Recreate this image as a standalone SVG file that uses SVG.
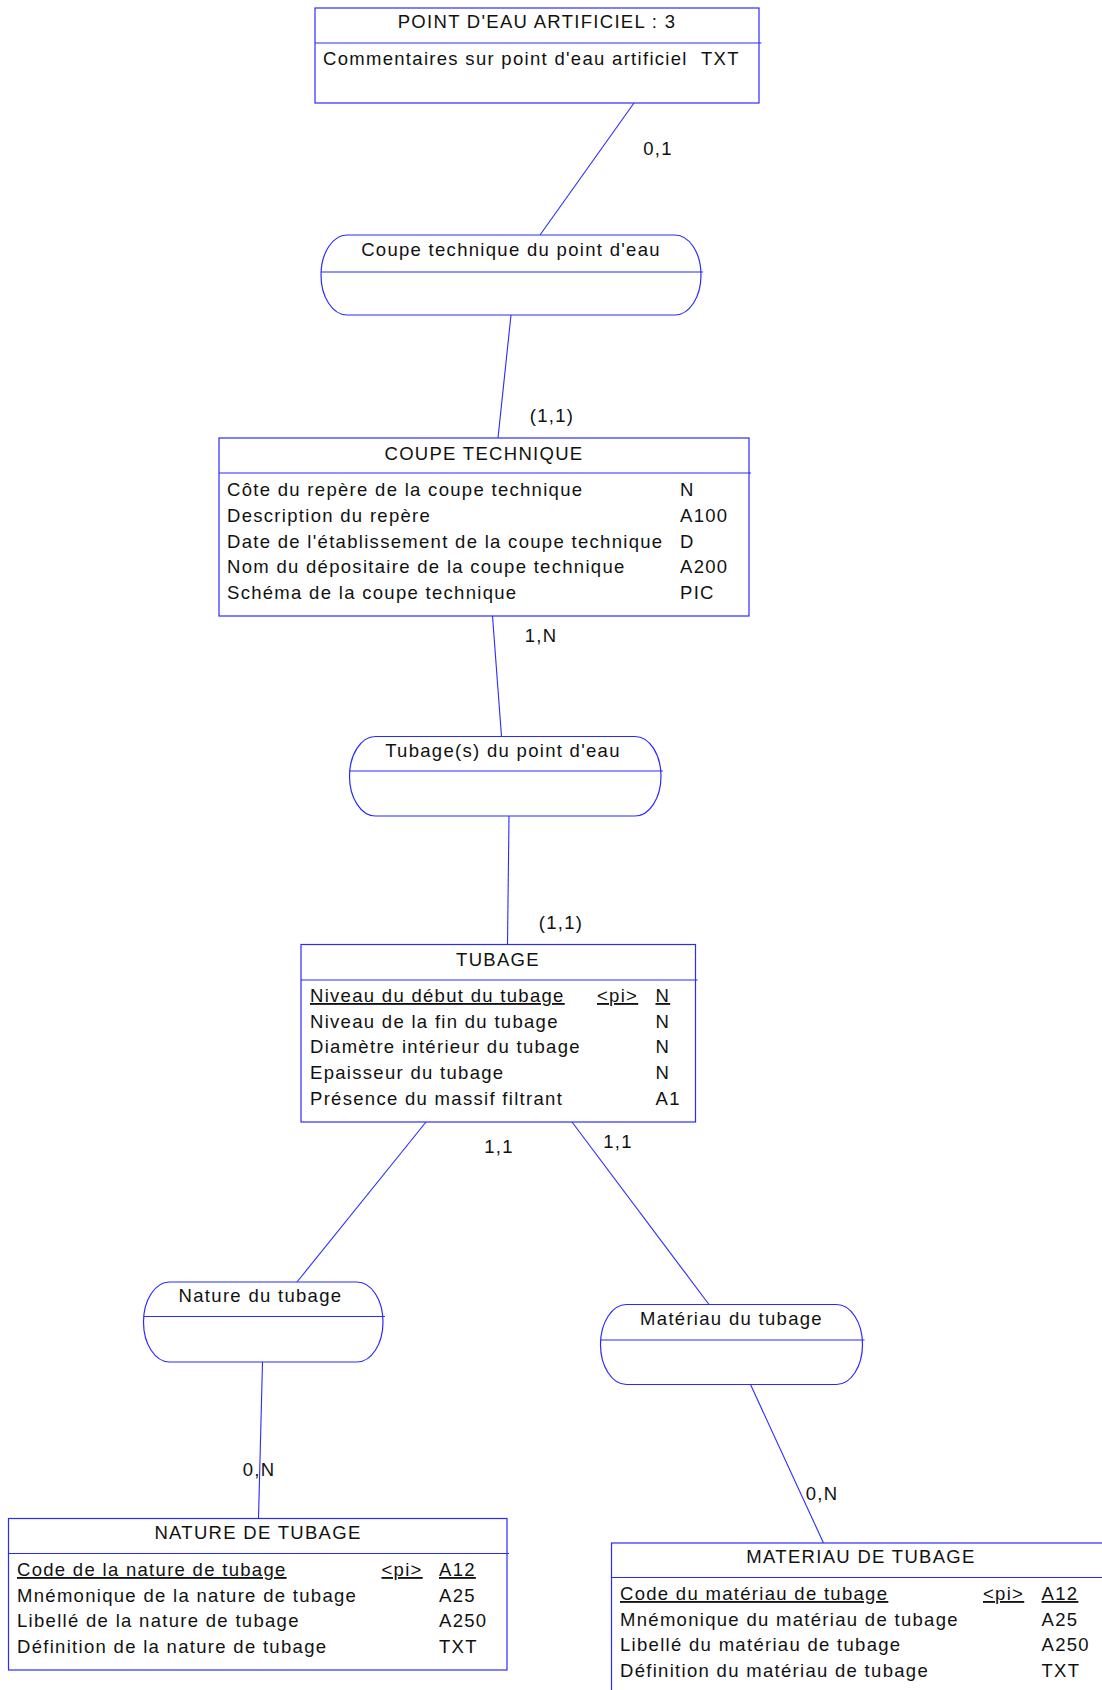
<svg xmlns="http://www.w3.org/2000/svg" width="1102" height="1690" viewBox="0 0 1102 1690">
<style>
.box{fill:#fff;stroke:#2a2aff;stroke-width:1.2}
.sep{stroke:#2a2aff;stroke-width:1.2;fill:none}
.con{stroke:#2a2aff;stroke-width:1.1;fill:none}
text{font-family:"Liberation Sans",Arial,sans-serif;font-size:18.5px;letter-spacing:1.3px;fill:#111}
.c{text-anchor:middle}
.u{text-decoration:underline}
</style>
<rect width="1102" height="1690" fill="#fff"/>
<g id="connectors">
<line class="con" x1="634" y1="103" x2="540" y2="235"/>
<line class="con" x1="511" y1="315" x2="498" y2="438"/>
<line class="con" x1="492.5" y1="616" x2="501.5" y2="736.5"/>
<line class="con" x1="509" y1="816" x2="507.5" y2="944.5"/>
<line class="con" x1="426" y1="1122" x2="297" y2="1282"/>
<line class="con" x1="572" y1="1122" x2="709" y2="1304.5"/>
<line class="con" x1="262.5" y1="1362" x2="258.5" y2="1518.5"/>
<line class="con" x1="750.5" y1="1384.5" x2="823.5" y2="1543"/>
<text class="c" x="658" y="155">0,1</text>
<text class="c" x="552" y="421.5">(1,1)</text>
<text class="c" x="541" y="641.5">1,N</text>
<text class="c" x="561" y="928.5">(1,1)</text>
<text class="c" x="499" y="1152.5">1,1</text>
<text class="c" x="618" y="1147.5">1,1</text>
<text class="c" x="259" y="1476">0,N</text>
<text class="c" x="822" y="1500">0,N</text>
</g>
<g id="point-eau-artificiel">
<rect class="box" x="315" y="8" width="444" height="95"/>
<line class="sep" x1="315" y1="43" x2="761.5" y2="43"/>
<text class="c" x="537" y="28">POINT D'EAU ARTIFICIEL : 3</text>
<text x="323" y="65">Commentaires sur point d'eau artificiel</text>
<text x="701" y="65">TXT</text>
</g>
<g id="assoc-coupe-technique">
<rect class="box" x="321" y="235" width="380" height="80" rx="26" ry="40"/>
<line class="sep" x1="321" y1="272" x2="703" y2="272"/>
<text class="c" x="511" y="255.5">Coupe technique du point d'eau</text>
</g>
<g id="coupe-technique">
<rect class="box" x="219" y="438" width="530" height="178"/>
<line class="sep" x1="219" y1="473" x2="751" y2="473"/>
<text class="c" x="484" y="459.5">COUPE TECHNIQUE</text>
<text x="227" y="496">Côte du repère de la coupe technique</text>
<text x="680" y="496">N</text>
<text x="227" y="521.8">Description du repère</text>
<text x="680" y="521.8">A100</text>
<text x="227" y="547.5">Date de l'établissement de la coupe technique</text>
<text x="680" y="547.5">D</text>
<text x="227" y="573.3">Nom du dépositaire de la coupe technique</text>
<text x="680" y="573.3">A200</text>
<text x="227" y="599">Schéma de la coupe technique</text>
<text x="680" y="599">PIC</text>
</g>
<g id="assoc-tubages">
<rect class="box" x="349.5" y="736.5" width="311.5" height="79.5" rx="26" ry="40"/>
<line class="sep" x1="349.5" y1="771" x2="663" y2="771"/>
<text class="c" x="503" y="757">Tubage(s) du point d'eau</text>
</g>
<g id="tubage">
<rect class="box" x="301" y="944.5" width="394.5" height="177.5"/>
<line class="sep" x1="301" y1="980" x2="697.5" y2="980"/>
<text class="c" x="498" y="966">TUBAGE</text>
<text class="u" x="310" y="1002">Niveau du début du tubage</text>
<text class="u" x="597" y="1002">&lt;pi&gt;</text>
<text class="u" x="655.5" y="1002">N</text>
<text x="310" y="1027.7">Niveau de la fin du tubage</text>
<text x="655.5" y="1027.7">N</text>
<text x="310" y="1053.4">Diamètre intérieur du tubage</text>
<text x="655.5" y="1053.4">N</text>
<text x="310" y="1079.2">Epaisseur du tubage</text>
<text x="655.5" y="1079.2">N</text>
<text x="310" y="1105">Présence du massif filtrant</text>
<text x="655.5" y="1105">A1</text>
</g>
<g id="assoc-nature-tubage">
<rect class="box" x="143.5" y="1282" width="239.5" height="80" rx="26" ry="40"/>
<line class="sep" x1="143.5" y1="1316.5" x2="385" y2="1316.5"/>
<text class="c" x="260.5" y="1302">Nature du tubage</text>
</g>
<g id="assoc-materiau-tubage">
<rect class="box" x="600.5" y="1304.5" width="262" height="80" rx="26" ry="40"/>
<line class="sep" x1="600.5" y1="1340" x2="864.5" y2="1340"/>
<text class="c" x="731.5" y="1325">Matériau du tubage</text>
</g>
<g id="nature-de-tubage">
<rect class="box" x="8.5" y="1518.5" width="498.5" height="151.5"/>
<line class="sep" x1="8.5" y1="1553.5" x2="509" y2="1553.5"/>
<text class="c" x="258" y="1539">NATURE DE TUBAGE</text>
<text class="u" x="17" y="1576">Code de la nature de tubage</text>
<text class="u" x="381.5" y="1576">&lt;pi&gt;</text>
<text class="u" x="439" y="1576">A12</text>
<text x="17" y="1601.7">Mnémonique de la nature de tubage</text>
<text x="439" y="1601.7">A25</text>
<text x="17" y="1627.4">Libellé de la nature de tubage</text>
<text x="439" y="1627.4">A250</text>
<text x="17" y="1653.1">Définition de la nature de tubage</text>
<text x="439" y="1653.1">TXT</text>
</g>
<g id="materiau-de-tubage">
<rect class="box" x="611.5" y="1543" width="498.5" height="151.5"/>
<line class="sep" x1="611.5" y1="1577.5" x2="1112" y2="1577.5"/>
<text class="c" x="861" y="1563">MATERIAU DE TUBAGE</text>
<text class="u" x="620" y="1600">Code du matériau de tubage</text>
<text class="u" x="983" y="1600">&lt;pi&gt;</text>
<text class="u" x="1041.5" y="1600">A12</text>
<text x="620" y="1625.7">Mnémonique du matériau de tubage</text>
<text x="1041.5" y="1625.7">A25</text>
<text x="620" y="1651.4">Libellé du matériau de tubage</text>
<text x="1041.5" y="1651.4">A250</text>
<text x="620" y="1677.1">Définition du matériau de tubage</text>
<text x="1041.5" y="1677.1">TXT</text>
</g>
</svg>
